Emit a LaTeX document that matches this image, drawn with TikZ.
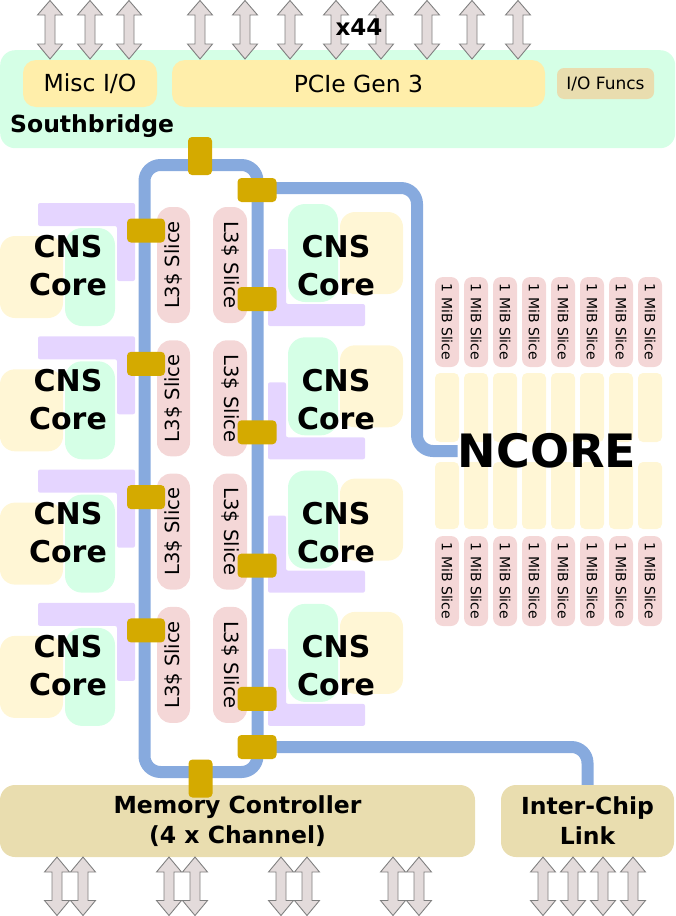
\documentclass[tikz,border=0pt]{standalone}
\usepackage{fontspec}
\setmainfont{DejaVu Sans}
\definecolor{mint}{HTML}{D5FFE6}
\definecolor{miscy}{HTML}{FFEEAA}
\definecolor{lighty}{HTML}{FFF6D5}
\definecolor{tanc}{HTML}{E9DDAF}
\definecolor{lilac}{HTML}{E5D5FF}
\definecolor{pinkc}{HTML}{F4D7D7}
\definecolor{goldc}{HTML}{D4AA00}
\definecolor{busblue}{HTML}{87AADE}
\definecolor{arrfill}{HTML}{E3DBDB}
\definecolor{arrline}{HTML}{808080}
\begin{document}
\begin{tikzpicture}[x=1pt,y=-1pt,
  blk/.style={inner sep=0pt, draw=none, align=center},
  arr/.style={fill=arrfill, draw=arrline, line width=0.9pt, line join=miter},
  bus/.style={draw=busblue, line width=12pt, rounded corners=16pt},
  conn/.style={blk, fill=goldc, rounded corners=4pt},
  corefont/.style={font=\fontsize{30}{38}\selectfont\bfseries},
  l3font/.style={font=\fontsize{19.5}{22}\selectfont},
  mibfont/.style={font=\fontsize{14}{16}\selectfont},
  bigbold/.style={font=\fontsize{23.5}{30}\selectfont\bfseries}]
\useasboundingbox (0,0) rectangle (675,916);

% Southbridge
\node[blk, fill=mint, rounded corners=15pt, minimum width=675pt, minimum height=98pt, anchor=north west] (sb) at (0,50) {};
% top arrows
\foreach \c in {50,90,129,200,245,290,336,381,427,472,518}{
  \draw[arr] (\c,0.5) -- ({\c+12.5},15) -- ({\c+5},15) -- ({\c+5},44) -- ({\c+12.5},44) -- (\c,59) -- ({\c-12.5},44) -- ({\c-5},44) -- ({\c-5},15) -- ({\c-12.5},15) -- cycle;
}
\node[blk, font=\fontsize{23}{26}\selectfont\bfseries] (x44) at (359,27) {x44};
\node[blk, fill=miscy, rounded corners=13pt, minimum width=134pt, minimum height=47pt, font=\fontsize{23.5}{26}\selectfont] (misc) at (90,83.5) {Misc I/O};
\node[blk, fill=miscy, rounded corners=13pt, minimum width=373pt, minimum height=47pt, font=\fontsize{23.5}{26}\selectfont] (pcie) at (358.5,83.5) {PCIe Gen 3};
\node[blk, fill=tanc, rounded corners=7pt, minimum width=97pt, minimum height=31pt, font=\fontsize{17}{19}\selectfont] (iof) at (605.5,83.5) {I/O Funcs};
\node[blk, bigbold, anchor=west] (sbl) at (10,126) {Southbridge};

% core groups
\foreach \i in {0,1,2,3}{
  \pgfmathsetmacro{\d}{133.3*\i}
  % left group
  \fill[lilac, rounded corners=2pt] (38,{203+\d}) -- (135,{203+\d}) -- (135,{281+\d}) -- (117,{281+\d}) -- (117,{226+\d}) -- (38,{226+\d}) -- cycle;
  \fill[lighty, rounded corners=15pt] (0,{236+\d}) rectangle (63,{318+\d});
  \fill[mint, rounded corners=17pt] (65,{228+\d}) rectangle (115,{326+\d});
  \node[blk, corefont] (lcore\i) at (68,{266+\d}) {CNS\\Core};
  \node[blk, fill=pinkc, rounded corners=14pt, minimum width=33pt, minimum height=116pt] (ll3\i) at (173.5,{265+\d}) {};
  \node[blk, l3font, rotate=90] (ll3t\i) at (173.5,{265+\d}) {L3\$ Slice};
  \node[blk, fill=pinkc, rounded corners=14pt, minimum width=34pt, minimum height=116pt] (rl3\i) at (230,{265+\d}) {};
  \node[blk, l3font, rotate=-90] (rl3t\i) at (230,{265+\d}) {L3\$ Slice};
  % right group
  \fill[lilac, rounded corners=2pt] (268,{249+\d}) -- (286,{249+\d}) -- (286,{304+\d}) -- (365,{304+\d}) -- (365,{326+\d}) -- (268,{326+\d}) -- cycle;
  \fill[mint, rounded corners=17pt] (288,{204+\d}) rectangle (338,{302+\d});
  \fill[lighty, rounded corners=15pt] (340,{212+\d}) rectangle (403,{294+\d});
  \node[blk, corefont] (rcore\i) at (336,{266+\d}) {CNS\\Core};
}

% NCORE slices
\foreach \j in {0,...,7}{
  \pgfmathsetmacro{\cx}{447+29*\j}
  \node[blk, fill=pinkc, rounded corners=8pt, minimum width=24pt, minimum height=90pt] (ts\j) at (\cx,322) {};
  \node[blk, mibfont, rotate=-90] (tst\j) at (\cx,322) {1 MiB Slice};
  \node[blk, fill=lighty, rounded corners=5pt, minimum width=24pt, minimum height=69pt] (uy\j) at (\cx,407.5) {};
  \node[blk, fill=lighty, rounded corners=5pt, minimum width=24pt, minimum height=67pt] (ly\j) at (\cx,495.5) {};
  \node[blk, fill=pinkc, rounded corners=8pt, minimum width=24pt, minimum height=90pt] (bs\j) at (\cx,581) {};
  \node[blk, mibfont, rotate=-90] (bst\j) at (\cx,581) {1 MiB Slice};
}
\node[blk, font=\fontsize{46}{50}\selectfont\bfseries] (ncore) at (547,451) {NCORE};

% bottom boxes
\node[blk, fill=tanc, rounded corners=15pt, minimum width=475pt, minimum height=72pt, bigbold] (mc) at (237.5,821) {Memory Controller\\(4 x Channel)};
\node[blk, fill=tanc, rounded corners=15pt, minimum width=173pt, minimum height=72pt, bigbold] (icl) at (587.5,821) {Inter-Chip\\Link};
\foreach \c in {57,83,169,195,281,307,393,419,543,573,603,633}{
  \draw[arr] (\c,857) -- ({\c+12.5},872) -- ({\c+5},872) -- ({\c+5},900.5) -- ({\c+12.5},900.5) -- (\c,915.5) -- ({\c-12.5},900.5) -- ({\c-5},900.5) -- ({\c-5},872) -- ({\c-12.5},872) -- cycle;
}

% bus
\draw[bus] (144.5,165) rectangle (257.5,772);
\coordinate (nturn) at (417,188);
\draw[bus] (257.5,188) -- (nturn) -- (nturn |- ncore.west) -- (ncore.west);
\draw[bus] (257.5,747) -| (icl.north);

% connectors
\node[conn, minimum width=24pt, minimum height=38pt] (ctop) at (200,156) {};
\node[conn, minimum width=39pt, minimum height=24pt] (ctr) at (257,190) {};
\foreach \i in {0,1,2,3}{
  \pgfmathsetmacro{\d}{133.3*\i}
  \node[conn, minimum width=38pt, minimum height=24pt] (cl\i) at (146,{230.5+\d}) {};
  \node[conn, minimum width=39pt, minimum height=24pt] (cr\i) at (257,{299+\d}) {};
}
\node[conn, minimum width=39pt, minimum height=24pt] (cbr) at (257,747) {};
\node[conn, minimum width=24pt, minimum height=38pt] (cbot) at (200.5,778.5) {};
\end{tikzpicture}
\end{document}
